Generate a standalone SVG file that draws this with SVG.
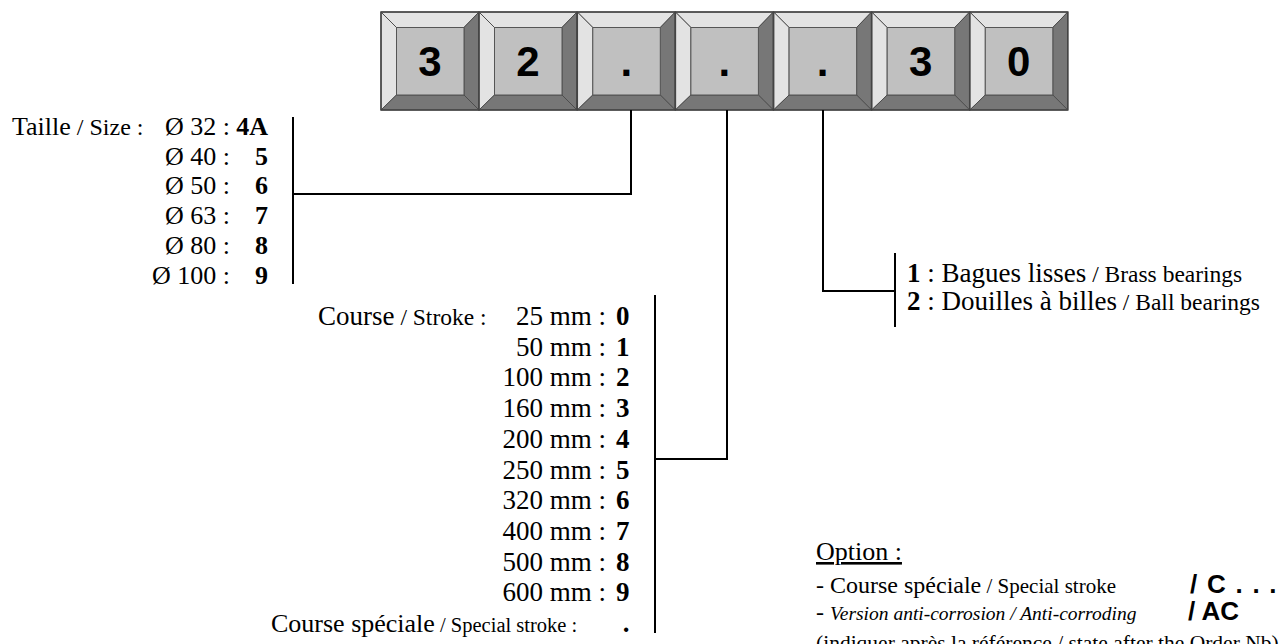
<svg xmlns="http://www.w3.org/2000/svg" xmlns:xlink="http://www.w3.org/1999/xlink" width="1282" height="644" viewBox="0 0 1282 644">
<style>
.t{font-family:"Liberation Serif","Times New Roman",serif;font-size:26px;fill:#000}
.c{font-size:27px}
.s{font-size:22px}
.b{font-weight:bold}
.e{text-anchor:end}
.m{text-anchor:middle}
.k{font-family:"Liberation Sans",Arial,sans-serif;font-weight:bold;font-size:42px;fill:#000;text-anchor:middle}
.a{font-family:"Liberation Sans",Arial,sans-serif;font-weight:bold;font-size:26px;fill:#000}
.ln{fill:none;stroke:#000;stroke-width:2}
.lt{fill:#e3e3e3;stroke:#4d4d4d;stroke-width:1}
.dk{fill:#777;stroke:#4d4d4d;stroke-width:1}
.in{fill:#c0c0c0;stroke:#555;stroke-width:1}
</style>
<defs>
<g id="cap">
<polygon class="lt" points="0,0 98,0 83,15.5 15.5,15.5"/>
<polygon class="lt" points="0,0 15.5,15.5 15.5,83 0,98"/>
<polygon class="dk" points="98,0 98,98 83,83 83,15.5"/>
<polygon class="dk" points="0,98 98,98 83,83 15.5,83"/>
<rect class="in" x="15.5" y="15.5" width="67.5" height="67.5"/>
<rect x="0" y="0" width="98" height="98" fill="none" stroke="#444" stroke-width="1.5"/>
</g>
</defs>
<rect width="1282" height="644" fill="#fff"/>

<g id="key1"><use xlink:href="#cap" x="381" y="12"/><text class="k" x="430" y="76">3</text></g>
<g id="key2"><use xlink:href="#cap" x="479" y="12"/><text class="k" x="528" y="76">2</text></g>
<g id="key3"><use xlink:href="#cap" x="577.3" y="12"/><text class="k" x="626.3" y="76">.</text></g>
<g id="key4"><use xlink:href="#cap" x="675.4" y="12"/><text class="k" x="724.4" y="76">.</text></g>
<g id="key5"><use xlink:href="#cap" x="773.6" y="12"/><text class="k" x="822.6" y="76">.</text></g>
<g id="key6"><use xlink:href="#cap" x="871.7" y="12"/><text class="k" x="920.7" y="76">3</text></g>
<g id="key7"><use xlink:href="#cap" x="969.8" y="12"/><text class="k" x="1018.8" y="76">0</text></g>

<g id="connectors">
<path class="ln" d="M631,110 V194 H293"/>
<path class="ln" d="M293,117 V284"/>
<path class="ln" d="M727,110 V459 H655"/>
<path class="ln" d="M655,295 V633"/>
<path class="ln" d="M823,110 V291 H895"/>
<path class="ln" d="M895,253 V327"/>
</g>

<g id="size-list" class="t">
<text x="12" y="135">Taille<tspan style="font-size:24px"> / Size :</tspan></text>
<text class="e" x="230" y="135">Ø 32 :</text><text class="e b" x="268" y="135">4A</text>
<text class="e" x="230" y="164.7">Ø 40 :</text><text class="e b" x="268" y="164.7">5</text>
<text class="e" x="230" y="194.4">Ø 50 :</text><text class="e b" x="268" y="194.4">6</text>
<text class="e" x="230" y="224.1">Ø 63 :</text><text class="e b" x="268" y="224.1">7</text>
<text class="e" x="230" y="253.8">Ø 80 :</text><text class="e b" x="268" y="253.8">8</text>
<text class="e" x="230" y="283.5">Ø 100 :</text><text class="e b" x="268" y="283.5">9</text>
</g>

<g id="stroke-list" class="t c">
<text x="318" y="325">Course<tspan style="font-size:23.5px"> / Stroke :</tspan></text>
<text class="e" x="606" y="325">25 mm :</text><text class="e b" x="629.5" y="325">0</text>
<text class="e" x="606" y="355.7">50 mm :</text><text class="e b" x="629.5" y="355.7">1</text>
<text class="e" x="606" y="386.4">100 mm :</text><text class="e b" x="629.5" y="386.4">2</text>
<text class="e" x="606" y="417.1">160 mm :</text><text class="e b" x="629.5" y="417.1">3</text>
<text class="e" x="606" y="447.8">200 mm :</text><text class="e b" x="629.5" y="447.8">4</text>
<text class="e" x="606" y="478.5">250 mm :</text><text class="e b" x="629.5" y="478.5">5</text>
<text class="e" x="606" y="509.2">320 mm :</text><text class="e b" x="629.5" y="509.2">6</text>
<text class="e" x="606" y="539.9">400 mm :</text><text class="e b" x="629.5" y="539.9">7</text>
<text class="e" x="606" y="570.6">500 mm :</text><text class="e b" x="629.5" y="570.6">8</text>
<text class="e" x="606" y="601.3">600 mm :</text><text class="e b" x="629.5" y="601.3">9</text>
<text x="271" y="632" style="font-size:26px">Course spéciale<tspan style="font-size:20.5px"> / Special stroke :</tspan></text><text class="m b" x="626" y="632">.</text>
</g>

<g id="bearing-list" class="t c">
<text x="907" y="281.7"><tspan class="b">1</tspan> : Bagues lisses<tspan style="font-size:23.5px"> / Brass bearings</tspan></text>
<text x="907" y="309.5"><tspan class="b">2</tspan> : Douilles à billes<tspan style="font-size:23.5px"> / Ball bearings</tspan></text>
</g>

<g id="options">
<text class="t" x="816" y="560" text-decoration="underline">Option :</text>
<text class="t" x="816" y="593" style="font-size:24px">- Course spéciale<tspan style="font-size:21px"> / Special stroke</tspan></text>
<text class="a" x="1190" y="593" word-spacing="2.5">/ C . . .</text>
<text class="t" x="816" y="620" style="font-size:24px">- <tspan font-style="italic" style="font-size:19.5px">Version anti-corrosion / Anti-corroding</tspan></text>
<text class="a" x="1188" y="620">/ AC</text>
<text class="t" x="816" y="650" style="font-size:21.5px">(indiquer après la référence / state after the Order Nb)</text>
</g>
</svg>
